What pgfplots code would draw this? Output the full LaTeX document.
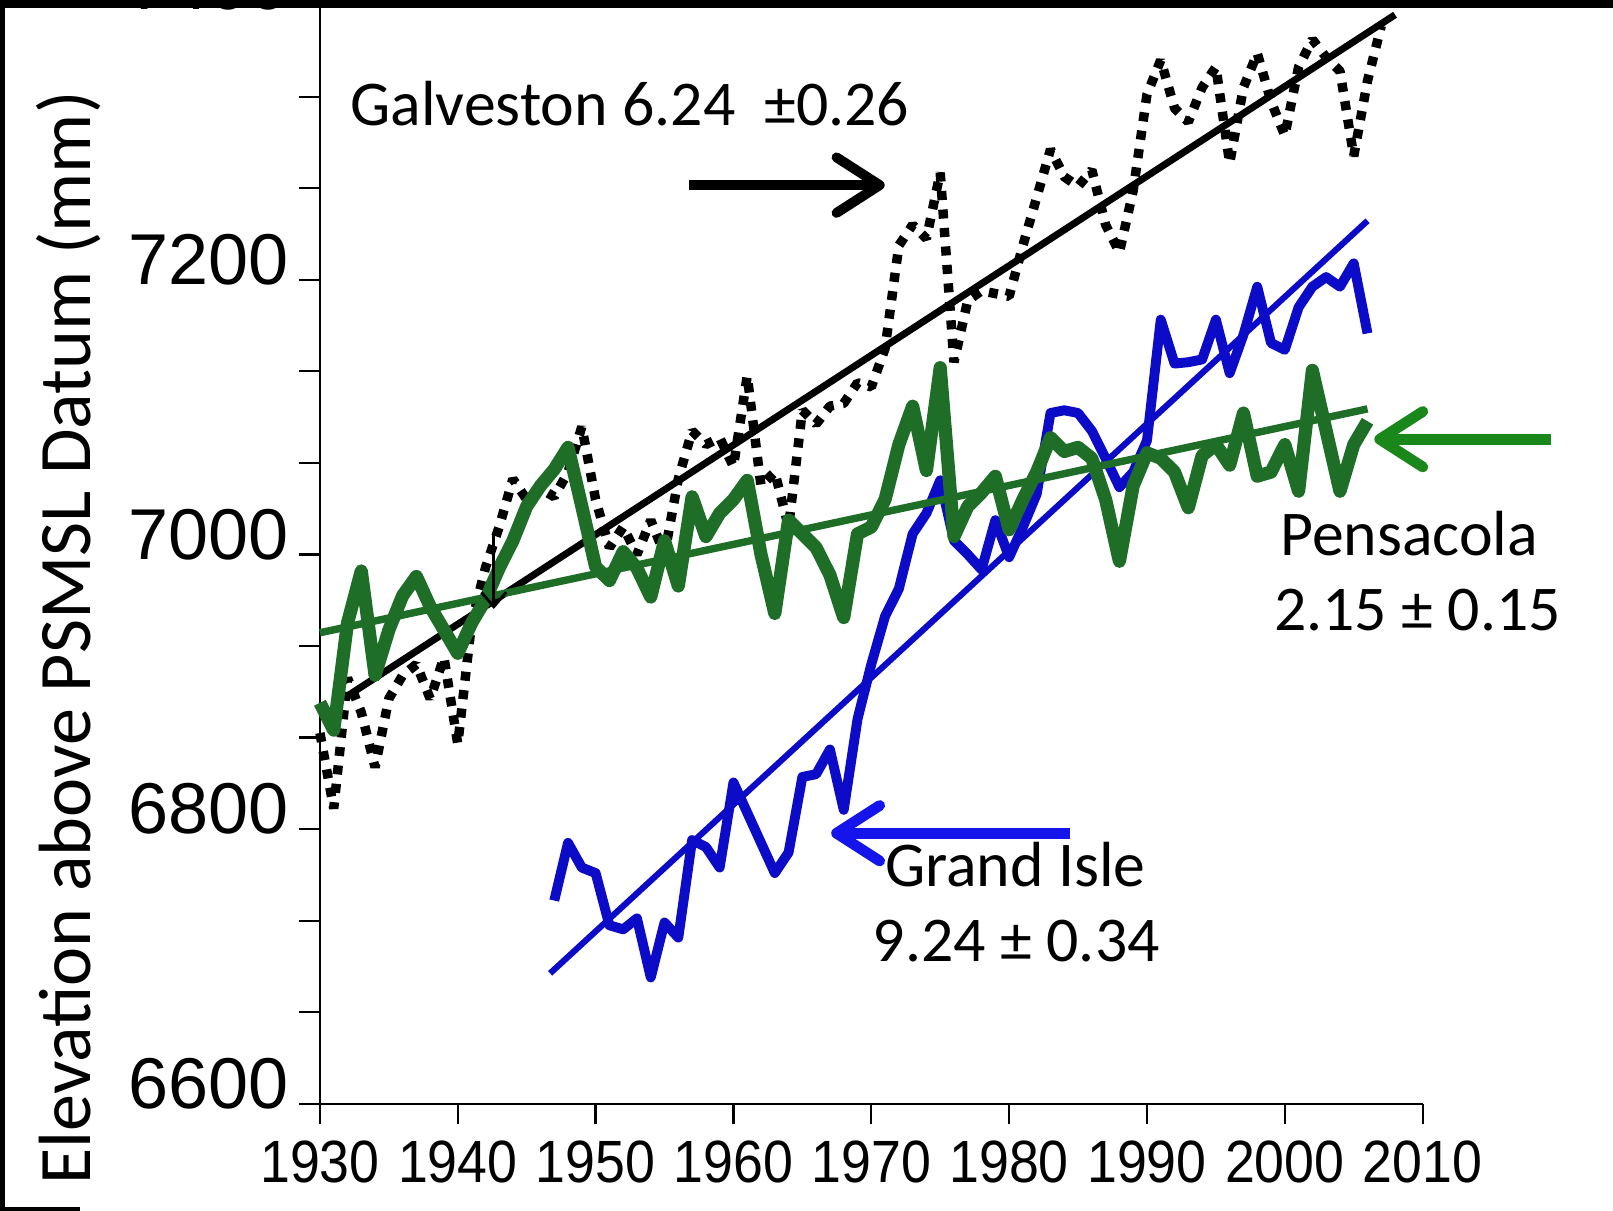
\documentclass[border=0pt]{standalone}
\usepackage{fontspec}
\setmainfont{Carlito}
\newfontfamily\arial{Liberation Sans}
\usepackage{graphicx}
\usepackage{pgfplots}
\usepackage{pgfplotstable}
\pgfplotsset{compat=1.18}
\usetikzlibrary{arrows.meta}
\definecolor{gdata}{RGB}{30,110,40}
\definecolor{garrow}{RGB}{25,135,25}
\definecolor{bdata}{RGB}{12,12,200}
\definecolor{barrow}{RGB}{20,20,235}
\newcommand\xl[1]{\scalebox{0.9}[1]{#1}}

\pgfplotstableread{
year val
1930 6870
1931 6815
1932 6910
1933 6885
1934 6845
1935 6895
1936 6912
1937 6920
1938 6895
1939 6925
1940 6862
1941 6950
1942 6990
1943 7020
1944 7055
1945 7040
1946 7048
1947 7042
1948 7060
1949 7093
1950 7040
1951 7005
1952 7020
1953 7000
1954 7025
1955 7000
1956 7055
1957 7090
1958 7080
1959 7085
1960 7064
1961 7130
1962 7050
1963 7060
1964 7020
1965 7105
1966 7095
1967 7108
1968 7110
1969 7125
1970 7122
1971 7150
1972 7225
1973 7240
1974 7230
1975 7278
1976 7140
1977 7185
1978 7192
1979 7190
1980 7188
1981 7225
1982 7260
1983 7295
1984 7275
1985 7268
1986 7280
1987 7240
1988 7220
1989 7265
1990 7335
1991 7360
1992 7325
1993 7315
1994 7340
1995 7355
1996 7285
1997 7340
1998 7365
1999 7330
2000 7305
2001 7355
2002 7375
2003 7362
2004 7352
2005 7290
2006 7345
2007 7385
}\galv

\pgfplotstableread{
year val
1930 6892
1931 6872
1932 6950
1933 6988
1934 6912
1935 6945
1936 6970
1937 6984
1938 6962
1939 6945
1940 6928
1941 6950
1942 6967
1943 6990
1944 7010
1945 7035
1946 7050
1947 7062
1948 7078
1949 7035
1950 6991
1951 6981
1952 7002
1953 6990
1954 6969
1955 7010
1956 6977
1957 7042
1958 7013
1959 7030
1960 7040
1961 7054
1962 7000
1963 6957
1964 7025
1965 7015
1966 7005
1967 6985
1968 6954
1969 7015
1970 7020
1971 7040
1972 7080
1973 7108
1974 7061
1975 7136
1976 7013
1977 7035
1978 7045
1979 7057
1980 7018
1981 7040
1982 7060
1983 7085
1984 7075
1985 7078
1986 7070
1987 7040
1988 6995
1989 7050
1990 7074
1991 7070
1992 7060
1993 7034
1994 7072
1995 7080
1996 7065
1997 7103
1998 7057
1999 7060
2000 7080
2001 7046
2002 7134
2003 7090
2004 7046
2005 7080
2006 7097
}\pens

\pgfplotstableread{
year val
1947 6748
1948 6790
1949 6772
1950 6768
1951 6730
1952 6727
1953 6735
1954 6692
1955 6732
1956 6721
1957 6792
1958 6787
1959 6772
1960 6834
1961 6812
1962 6790
1963 6768
1964 6783
1965 6838
1966 6840
1967 6858
1968 6814
1969 6880
1970 6920
1971 6955
1972 6975
1973 7015
1974 7030
1975 7054
1976 7010
1977 7000
1978 6989
1979 7025
1980 6998
1981 7020
1982 7044
1983 7103
1984 7105
1985 7103
1986 7090
1987 7070
1988 7049
1989 7060
1990 7083
1991 7171
1992 7139
1993 7140
1994 7142
1995 7171
1996 7132
1997 7160
1998 7195
1999 7154
2000 7149
2001 7180
2002 7195
2003 7202
2004 7195
2005 7212
2006 7161
}\grand

\begin{document}
\begin{tikzpicture}
\path[use as bounding box] (0,0) rectangle (392pt,294.25pt);
\fill[white] (0,0) rectangle (392pt,294.25pt);
\begin{axis}[
  at={(77.75pt,26pt)}, anchor=south west,
  scale only axis, width=268pt, height=267pt,
  xmin=1930, xmax=2010, ymin=6600, ymax=7400,
  axis x line=bottom, axis y line=left,
  axis line style={-, line width=0.55pt},
  tick align=outside, major tick length=5pt,
  tick style={line width=0.55pt, black},
  xtick={1930,1940,1950,1960,1970,1980,1990,2000,2010},
  xticklabels={\xl{1930},\xl{1940},\xl{1950},\xl{1960},\xl{1970},\xl{1980},\xl{1990},\xl{2000},\xl{2010}},
  ytick={6600,6666.6667,6733.3333,6800,6866.6667,6933.3333,7000,7066.6667,7133.3333,7200,7266.6667,7333.3333,7400},
  yticklabels={6600,,,6800,,,7000,,,7200,,,7400},
  xticklabel style={font=\arial\fontsize{14.5pt}{14.5pt}\selectfont, anchor=north, inner sep=0pt, yshift=-3.75pt},
  yticklabel style={font=\arial\fontsize{17.5pt}{17.5pt}\selectfont, anchor=south east, inner sep=0pt, xshift=-2.5pt, yshift=-1.5pt},
  no markers,
  clip=false,
]
\addplot[black, line width=2.3pt, dash pattern=on 2.2pt off 2.3pt, line cap=butt, line join=bevel] table[x=year,y=val]{\galv};
\addplot[black, line width=1.7pt] coordinates {(1932,6897) (2008,7393)};
\addplot[bdata, line width=2.4pt, line join=round] table[x=year,y=val]{\grand};
\addplot[bdata, line width=1.5pt] coordinates {(1946.7,6695) (2006,7243)};
\addplot[gdata, line width=3.2pt, line join=round] table[x=year,y=val]{\pens};
\addplot[gdata, line width=1.8pt] coordinates {(1930,6943) (2006,7106)};
\end{axis}
\begin{scope}[x=0.25pt, y=-0.25pt, yshift=294.25pt]
  \node[rotate=90, anchor=base, inner sep=0pt, font=\fontsize{18pt}{18pt}\selectfont] at (88,620) {Elevation above PSMSL Datum (mm)};
  \node[anchor=base west, inner sep=0pt, font=\fontsize{15.5pt}{15.5pt}\selectfont] at (340,122) {Galveston 6.24\ \ ±0.26};
  \node[anchor=base, inner sep=0pt, font=\fontsize{15.5pt}{15.5pt}\selectfont] at (1370,540) {Pensacola};
  \node[anchor=base, inner sep=0pt, font=\fontsize{15.5pt}{15.5pt}\selectfont] at (1378,613) {2.15 ± 0.15};
  \node[anchor=base, inner sep=0pt, font=\fontsize{15.5pt}{15.5pt}\selectfont] at (987,862) {Grand Isle};
  \node[anchor=base, inner sep=0pt, font=\fontsize{15.5pt}{15.5pt}\selectfont] at (988,935) {9.24 ± 0.34};
  \draw[black, line width=2.4pt, -{Straight Barb[length=10.5pt,width=13.5pt,line width=2.4pt,round]}] (670,180) -- (860,180);
  \draw[garrow, line width=2.6pt, -{Straight Barb[length=10.5pt,width=13.5pt,line width=2.6pt,round]}] (1508,427) -- (1336,427);
  \draw[barrow, line width=2.6pt, -{Straight Barb[length=10.5pt,width=13.5pt,line width=2.6pt,round]}] (1040,810) -- (808,810);
  \draw[black, line width=0.7pt, -{Straight Barb[length=3.5pt,width=6pt,line width=0.7pt]}] (480,518) -- (480,592);
  \fill[black] (0,0) rectangle (1568,8);
  \fill[black] (0,0) rectangle (5,1177);
  \fill[black] (0,1173) rectangle (78,1177);
\end{scope}
\end{tikzpicture}
\end{document}
